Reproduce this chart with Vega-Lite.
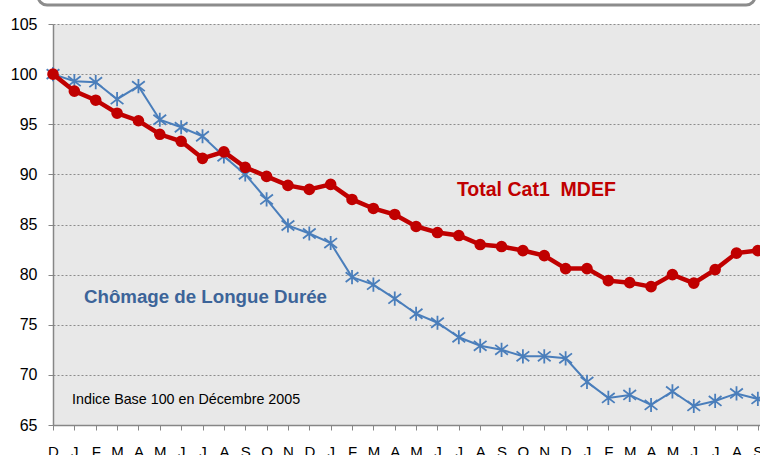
{
  "$schema": "https://vega.github.io/schema/vega-lite/v6.json",
  "width": 707,
  "height": 401,
  "autosize": {"type": "none"},
  "padding": {"left": 53, "top": 24, "right": 0, "bottom": 30},
  "background": "#ffffff",
  "config": {
    "view": {"fill": "#e8e8e8", "stroke": null},
    "font": "Liberation Sans"
  },
  "datasets": {
    "series": [
      {"i": 0, "mois": "D", "serie": "Chômage de Longue Durée", "valeur": 100},
      {"i": 1, "mois": "J", "serie": "Chômage de Longue Durée", "valeur": 99.3},
      {"i": 2, "mois": "F", "serie": "Chômage de Longue Durée", "valeur": 99.2},
      {"i": 3, "mois": "M", "serie": "Chômage de Longue Durée", "valeur": 97.5},
      {"i": 4, "mois": "A", "serie": "Chômage de Longue Durée", "valeur": 98.8},
      {"i": 5, "mois": "M", "serie": "Chômage de Longue Durée", "valeur": 95.45},
      {"i": 6, "mois": "J", "serie": "Chômage de Longue Durée", "valeur": 94.7},
      {"i": 7, "mois": "J", "serie": "Chômage de Longue Durée", "valeur": 93.8},
      {"i": 8, "mois": "A", "serie": "Chômage de Longue Durée", "valeur": 91.8},
      {"i": 9, "mois": "S", "serie": "Chômage de Longue Durée", "valeur": 90.0},
      {"i": 10, "mois": "O", "serie": "Chômage de Longue Durée", "valeur": 87.5},
      {"i": 11, "mois": "N", "serie": "Chômage de Longue Durée", "valeur": 84.9},
      {"i": 12, "mois": "D", "serie": "Chômage de Longue Durée", "valeur": 84.1},
      {"i": 13, "mois": "J", "serie": "Chômage de Longue Durée", "valeur": 83.15},
      {"i": 14, "mois": "F", "serie": "Chômage de Longue Durée", "valeur": 79.75},
      {"i": 15, "mois": "M", "serie": "Chômage de Longue Durée", "valeur": 79.0},
      {"i": 16, "mois": "A", "serie": "Chômage de Longue Durée", "valeur": 77.6},
      {"i": 17, "mois": "M", "serie": "Chômage de Longue Durée", "valeur": 76.1},
      {"i": 18, "mois": "J", "serie": "Chômage de Longue Durée", "valeur": 75.2},
      {"i": 19, "mois": "J", "serie": "Chômage de Longue Durée", "valeur": 73.75},
      {"i": 20, "mois": "A", "serie": "Chômage de Longue Durée", "valeur": 72.9},
      {"i": 21, "mois": "S", "serie": "Chômage de Longue Durée", "valeur": 72.5},
      {"i": 22, "mois": "O", "serie": "Chômage de Longue Durée", "valeur": 71.85},
      {"i": 23, "mois": "N", "serie": "Chômage de Longue Durée", "valeur": 71.85},
      {"i": 24, "mois": "D", "serie": "Chômage de Longue Durée", "valeur": 71.65},
      {"i": 25, "mois": "J", "serie": "Chômage de Longue Durée", "valeur": 69.3},
      {"i": 26, "mois": "F", "serie": "Chômage de Longue Durée", "valeur": 67.7},
      {"i": 27, "mois": "M", "serie": "Chômage de Longue Durée", "valeur": 68.0},
      {"i": 28, "mois": "A", "serie": "Chômage de Longue Durée", "valeur": 67.0},
      {"i": 29, "mois": "M", "serie": "Chômage de Longue Durée", "valeur": 68.35},
      {"i": 30, "mois": "J", "serie": "Chômage de Longue Durée", "valeur": 66.9},
      {"i": 31, "mois": "J", "serie": "Chômage de Longue Durée", "valeur": 67.4},
      {"i": 32, "mois": "A", "serie": "Chômage de Longue Durée", "valeur": 68.15},
      {"i": 33, "mois": "S", "serie": "Chômage de Longue Durée", "valeur": 67.6},
      {"i": 0, "mois": "D", "serie": "Total Cat1 MDEF", "valeur": 100},
      {"i": 1, "mois": "J", "serie": "Total Cat1 MDEF", "valeur": 98.3},
      {"i": 2, "mois": "F", "serie": "Total Cat1 MDEF", "valeur": 97.4},
      {"i": 3, "mois": "M", "serie": "Total Cat1 MDEF", "valeur": 96.1},
      {"i": 4, "mois": "A", "serie": "Total Cat1 MDEF", "valeur": 95.35},
      {"i": 5, "mois": "M", "serie": "Total Cat1 MDEF", "valeur": 94.0},
      {"i": 6, "mois": "J", "serie": "Total Cat1 MDEF", "valeur": 93.3},
      {"i": 7, "mois": "J", "serie": "Total Cat1 MDEF", "valeur": 91.6},
      {"i": 8, "mois": "A", "serie": "Total Cat1 MDEF", "valeur": 92.25},
      {"i": 9, "mois": "S", "serie": "Total Cat1 MDEF", "valeur": 90.7},
      {"i": 10, "mois": "O", "serie": "Total Cat1 MDEF", "valeur": 89.8},
      {"i": 11, "mois": "N", "serie": "Total Cat1 MDEF", "valeur": 88.9},
      {"i": 12, "mois": "D", "serie": "Total Cat1 MDEF", "valeur": 88.5},
      {"i": 13, "mois": "J", "serie": "Total Cat1 MDEF", "valeur": 89.0},
      {"i": 14, "mois": "F", "serie": "Total Cat1 MDEF", "valeur": 87.5},
      {"i": 15, "mois": "M", "serie": "Total Cat1 MDEF", "valeur": 86.6},
      {"i": 16, "mois": "A", "serie": "Total Cat1 MDEF", "valeur": 86.0},
      {"i": 17, "mois": "M", "serie": "Total Cat1 MDEF", "valeur": 84.8},
      {"i": 18, "mois": "J", "serie": "Total Cat1 MDEF", "valeur": 84.2},
      {"i": 19, "mois": "J", "serie": "Total Cat1 MDEF", "valeur": 83.9},
      {"i": 20, "mois": "A", "serie": "Total Cat1 MDEF", "valeur": 83.0},
      {"i": 21, "mois": "S", "serie": "Total Cat1 MDEF", "valeur": 82.8},
      {"i": 22, "mois": "O", "serie": "Total Cat1 MDEF", "valeur": 82.4},
      {"i": 23, "mois": "N", "serie": "Total Cat1 MDEF", "valeur": 81.9},
      {"i": 24, "mois": "D", "serie": "Total Cat1 MDEF", "valeur": 80.6},
      {"i": 25, "mois": "J", "serie": "Total Cat1 MDEF", "valeur": 80.6},
      {"i": 26, "mois": "F", "serie": "Total Cat1 MDEF", "valeur": 79.4},
      {"i": 27, "mois": "M", "serie": "Total Cat1 MDEF", "valeur": 79.2},
      {"i": 28, "mois": "A", "serie": "Total Cat1 MDEF", "valeur": 78.8},
      {"i": 29, "mois": "M", "serie": "Total Cat1 MDEF", "valeur": 80.0},
      {"i": 30, "mois": "J", "serie": "Total Cat1 MDEF", "valeur": 79.15},
      {"i": 31, "mois": "J", "serie": "Total Cat1 MDEF", "valeur": 80.5},
      {"i": 32, "mois": "A", "serie": "Total Cat1 MDEF", "valeur": 82.15},
      {"i": 33, "mois": "S", "serie": "Total Cat1 MDEF", "valeur": 82.4}
    ],
    "etiquettes": [
      {"texte": "Total Cat1\u00a0 MDEF", "serie": "Total Cat1 MDEF", "i": 18.91, "valeur": 87.84, "taille": 19.5},
      {"texte": "Chômage de Longue Durée", "serie": "Chômage de Longue Durée", "i": 1.45, "valeur": 77.17, "taille": 18.7}
    ]
  },
  "encoding": {
    "x": {
      "field": "i",
      "type": "quantitative",
      "scale": {"domain": [0, 33.1], "nice": false, "zero": false},
      "axis": {
        "title": null,
        "values": [0,1,2,3,4,5,6,7,8,9,10,11,12,13,14,15,16,17,18,19,20,21,22,23,24,25,26,27,28,29,30,31,32,33],
        "labelExpr": "substring('DJFMAMJJASONDJFMAMJJASONDJFMAMJJAS', datum.value, datum.value + 1)",
        "grid": false,
        "domainColor": "#868686",
        "domainWidth": 1.5,
        "tickColor": "#868686",
        "tickSize": 5,
        "labelFontSize": 15,
        "labelColor": "#000000",
        "labelPadding": 14,
        "labelFlush": false,
        "labelOverlap": false
      }
    },
    "y": {
      "field": "valeur",
      "type": "quantitative",
      "scale": {"domain": [65, 105], "nice": false, "zero": false},
      "axis": {
        "title": null,
        "values": [65, 70, 75, 80, 85, 90, 95, 100, 105],
        "grid": true,
        "gridColor": "#8c8c8c",
        "gridDash": [2, 2],
        "gridWidth": 1,
        "domainColor": "#868686",
        "domainWidth": 1.5,
        "tickColor": "#868686",
        "tickSize": 5,
        "labelFontSize": 16,
        "labelColor": "#000000",
        "labelPadding": 11
      }
    }
  },
  "layer": [
    {
      "data": {"name": "series"},
      "transform": [{"filter": "datum.serie === 'Chômage de Longue Durée'"}],
      "mark": {"type": "line", "color": "#4a7ebb", "strokeWidth": 2}
    },
    {
      "data": {"name": "series"},
      "transform": [{"filter": "datum.serie === 'Chômage de Longue Durée'"}],
      "mark": {
        "type": "point",
        "shape": "M0,-1L0,1M-0.9,-0.7L0.9,0.7M-0.9,0.7L0.9,-0.7",
        "filled": false,
        "stroke": "#4a7ebb",
        "strokeWidth": 1.8,
        "size": 200,
        "opacity": 1
      }
    },
    {
      "data": {"name": "series"},
      "transform": [{"filter": "datum.serie === 'Total Cat1 MDEF'"}],
      "mark": {"type": "line", "color": "#c00000", "strokeWidth": 4.5}
    },
    {
      "data": {"name": "series"},
      "transform": [{"filter": "datum.serie === 'Total Cat1 MDEF'"}],
      "mark": {"type": "circle", "color": "#c00000", "size": 135, "opacity": 1}
    },
    {
      "data": {"name": "etiquettes"},
      "mark": {"type": "text", "align": "left", "baseline": "alphabetic", "fontWeight": "bold"},
      "encoding": {
        "text": {"field": "texte"},
        "size": {"field": "taille", "type": "quantitative", "scale": null},
        "color": {
          "field": "serie",
          "type": "nominal",
          "scale": {"domain": ["Total Cat1 MDEF", "Chômage de Longue Durée"], "range": ["#c00000", "#3c6499"]},
          "legend": null
        }
      }
    },
    {
      "data": {"values": [{"texte": "Indice Base 100 en Décembre 2005", "i": 0.89, "valeur": 67.07}]},
      "mark": {"type": "text", "align": "left", "baseline": "alphabetic", "fontSize": 14.3, "color": "#000000"},
      "encoding": {
        "text": {"field": "texte"}
      }
    },
    {
      "data": {"values": [{"i": -0.7, "i2": 32.87, "valeur": 106.9, "valeur2": 112}]},
      "mark": {"type": "rect", "fill": "#ffffff", "fillOpacity": 0, "stroke": "#8c8c8c", "strokeWidth": 3, "cornerRadius": 9, "clip": false},
      "encoding": {
        "x2": {"field": "i2"},
        "y2": {"field": "valeur2"}
      }
    }
  ]
}
